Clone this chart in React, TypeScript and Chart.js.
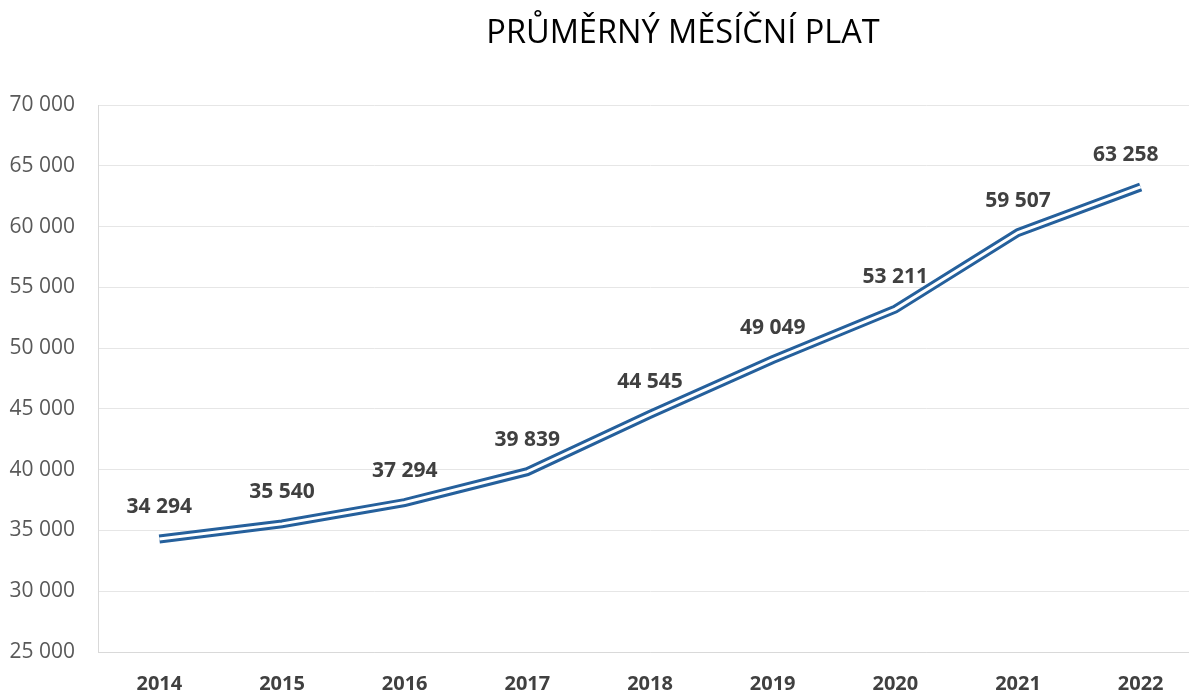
import React, { useEffect, useRef } from "react";
import { Chart, registerables } from "chart.js";

Chart.register(...registerables);

const titleText = "PRŮMĚRNÝ MĚSÍČNÍ PLAT";
const years = ["2014", "2015", "2016", "2017", "2018", "2019", "2020", "2021", "2022"];
const salaries = [34294, 35540, 37294, 39839, 44545, 49049, 53211, 59507, 63258];
const yMin = 25000;
const yMax = 70000;
const yStep = 5000;

const FONT = "'Open Sans', 'DejaVu Sans', sans-serif";
const LINE_BLUE = "#25609C";

const fmt = (v: number) =>
  Math.round(v)
    .toString()
    .replace(/\B(?=(\d{3})+(?!\d))/g, " ");

const titlePlugin = {
  id: "customTitle",
  afterDraw(chart: any) {
    const ctx = chart.ctx;
    ctx.save();
    ctx.font = `32.5px ${FONT}`;
    ctx.fillStyle = "#000000";
    ctx.textAlign = "center";
    ctx.textBaseline = "middle";
    ctx.fillText(titleText, 683, 34);
    ctx.restore();
  },
};

const labelPlugin = {
  id: "valueLabels",
  afterDatasetsDraw(chart: any) {
    const ctx = chart.ctx;
    const meta = chart.getDatasetMeta(0);
    ctx.save();
    ctx.font = `bold 21px ${FONT}`;
    ctx.fillStyle = "#404040";
    ctx.textAlign = "center";
    ctx.textBaseline = "middle";
    meta.data.forEach((pt: any, i: number) => {
      const dx = i === meta.data.length - 1 ? -15 : 0;
      ctx.fillText(fmt(salaries[i]), pt.x + dx, pt.y - 32);
    });
    ctx.restore();
  },
};

export default function App() {
  const ref = useRef<HTMLCanvasElement>(null);
  useEffect(() => {
    if (!ref.current) return;
    const chart = new Chart(ref.current, {
      type: "line",
      data: {
        labels: years,
        datasets: [
          {
            data: salaries,
            borderColor: LINE_BLUE,
            borderWidth: 9,
            pointRadius: 0,
            tension: 0,
            fill: false,
            order: 2,
          },
          {
            data: salaries,
            borderColor: "#ffffff",
            borderWidth: 3,
            pointRadius: 0,
            tension: 0,
            fill: false,
            order: 1,
          },
        ],
      },
      options: {
        responsive: false,
        animation: false,
        layout: { padding: { left: 0, right: 164, top: 105, bottom: 0 } },
        plugins: {
          legend: { display: false },
          title: { display: false },
          tooltip: { enabled: false },
        },
        scales: {
          x: {
            offset: true,
            grid: { display: false, drawTicks: false },
            border: { display: true, color: "#d9d9d9", width: 1 },
            ticks: {
              color: "#404040",
              font: { family: FONT, size: 20, weight: "bold" },
              padding: 20,
              maxRotation: 0,
            },
            afterFit(scale: any) {
              scale.height = 42;
            },
          },
          y: {
            min: yMin,
            max: yMax,
            grid: { color: "#e6e6e6", lineWidth: 1, drawTicks: false },
            border: { display: true, color: "#d9d9d9", width: 1 },
            ticks: {
              stepSize: yStep,
              color: "#595959",
              font: { family: FONT, size: 21 },
              padding: 23,
              callback: (v: any) => fmt(Number(v)),
            },
            afterFit(scale: any) {
              scale.width = 98;
            },
          },
        },
      },
      plugins: [titlePlugin, labelPlugin],
    });
    return () => chart.destroy();
  }, []);

  return (
    <div
      style={{
        position: "fixed",
        left: 0,
        top: 0,
        width: 1189,
        height: 694,
        overflow: "hidden",
        background: "#ffffff",
      }}
    >
      <canvas ref={ref} width={1366} height={694} style={{ width: 1366, height: 694, display: "block" }} />
    </div>
  );
}
